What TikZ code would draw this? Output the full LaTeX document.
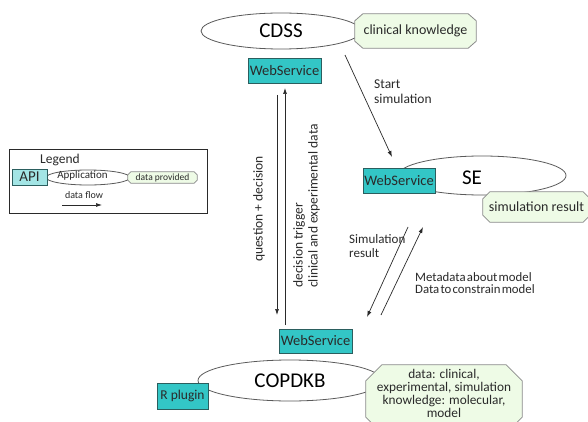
\documentclass[tikz,border=0pt]{standalone}
\usepackage{fontspec}
\setmainfont{Carlito}
\usetikzlibrary{shapes.geometric,arrows.meta}
\definecolor{teal1}{HTML}{33C6C6}
\definecolor{tealb}{HTML}{2B5E5E}
\definecolor{lgreen}{HTML}{EEFBE6}
\definecolor{octb}{HTML}{8A8A8A}
\definecolor{ellb}{HTML}{5A5A5A}
\definecolor{ink}{HTML}{2A2A2A}
\newcommand\tightspaces{\spaceskip=1.2pt\relax}
\tikzset{
  wsbox/.style={draw=tealb, fill=teal1, line width=0.8pt, inner sep=0pt, font=\fontsize{14.5}{16}\selectfont, text=ink},
  appell/.style={draw=ellb, fill=white, ellipse, line width=0.8pt, inner sep=0pt, font=\fontsize{21}{23}\selectfont, text=black},
  octarea/.style={rectangle, inner sep=0pt},
  octline/.style={draw=octb, fill=lgreen, line width=0.8pt},
  octtext/.style={inner sep=0pt, text=ink, font=\fontsize{14}{15}\selectfont},
  lbl/.style={font=\fontsize{13.5}{15}\selectfont, text=ink, inner sep=0pt},
  flow/.style={draw=ink, line width=0.7pt, -{Latex[length=6pt,width=4pt]}},
}
\newcommand\octdraw[3]{%
 \filldraw[octline] ([xshift=#2]#1.north west) -- ([xshift=-#2]#1.north east) -- ([yshift=-#3]#1.north east) -- ([yshift=#3]#1.south east) -- ([xshift=-#2]#1.south east) -- ([xshift=#2]#1.south west) -- ([yshift=#3]#1.south west) -- ([yshift=-#3]#1.north west) -- cycle;}
\begin{document}
\begin{tikzpicture}[x=1pt,y=-1pt]
\useasboundingbox (0,0) rectangle (588,422);
\fill[white] (0,0) rectangle (588,422);

% CDSS
\node[appell, minimum width=160pt, minimum height=36pt] (cdss) at (281,31) {CDSS};
\node[octarea, minimum width=121pt, minimum height=34pt] (ck) at (415.5,31) {};
\octdraw{ck}{8pt}{7pt}
\node[octtext] (ckt) at (ck.center) {clinical knowledge};
\node[wsbox, minimum width=73pt, minimum height=25pt] (wscdss) at (284.5,70.5) {WebService};

% SE
\node[appell, minimum width=168pt, minimum height=39pt] (se) at (482,175.5) {};
\node[font=\fontsize{21}{23}\selectfont, inner sep=0pt] (selbl) at (472,178) {SE};
\node[wsbox, minimum width=72pt, minimum height=25pt] (wsse) at (399,180.5) {WebService};
\node[octarea, minimum width=107pt, minimum height=30pt] (simres) at (536.5,207) {};
\octdraw{simres}{7pt}{7pt}
\node[octtext] (simrest) at (simres.center) {simulation result};

% COPDKB
\node[appell, minimum width=184pt, minimum height=41pt] (kb) at (290,380.5) {COPDKB};
\node[wsbox, minimum width=73pt, minimum height=24pt] (wskb) at (315.5,341) {WebService};
\node[wsbox, minimum width=51pt, minimum height=26pt, font=\fontsize{13.5}{15}\selectfont] (rplug) at (182.5,396) {R plugin};
\node[octarea, minimum width=156pt, minimum height=68pt] (data) at (444,399) {};
\octdraw{data}{16pt}{16pt}
\node[octtext, align=center, font=\fontsize{13.3}{13}\selectfont, anchor=north] (datatxt) at (444,369) {data: clinical,\\experimental, simulation\\knowledge: molecular,\\model};

% Legend
\node[draw=ink, fill=white, line width=0.8pt, minimum width=198pt, minimum height=64pt, inner sep=0pt] (legend) at (108,181) {};
\node[font=\fontsize{13.5}{14}\selectfont, inner sep=0pt, text=ink] (legt) at (60,160) {Legend};
\node[appell, minimum width=84pt, minimum height=15pt] (lapp) at (88,177.5) {};
\node[font=\fontsize{11}{12}\selectfont, inner sep=0pt, text=ink] (lapptxt) at (82.5,175.5) {Application};
\node[draw=tealb, fill=teal1!45, line width=0.7pt, minimum width=35pt, minimum height=16pt, inner sep=0pt, font=\fontsize{15}{16}\selectfont, text=ink] (api) at (29.5,177) {API};
\node[octarea, minimum width=69pt, minimum height=11pt] (ldp) at (162.5,177.5) {};
\octdraw{ldp}{3pt}{3pt}
\node[octtext, font=\fontsize{9.5}{10}\selectfont] (ldpt) at (ldp.center) {data provided};
\node[font=\fontsize{10}{11}\selectfont, inner sep=0pt, text=ink] (ldf) at (84,195) {data flow};
\coordinate (lfa) at (62,205);
\coordinate (lfb) at (102,205);
\draw[flow] (lfa) -- (lfb);

% vertical arrows
\coordinate (qa) at (277,95);
\coordinate (qb) at (277,315);
\coordinate (da) at (285,325);
\coordinate (db) at (285,88);
\draw[flow] (qa) -- (qb);
\draw[flow] (da) -- (db);
\node[lbl, rotate=90] (qd) at (259,209) {question + decision};
\node[lbl, rotate=90, align=left, anchor=south west] (dt) at (320,288) {decision trigger\\clinical and experimental data};

% start simulation
\coordinate (ssa) at (345,55);
\coordinate (ssb) at (392,157);
\draw[flow] (ssa) -- (ssb);
\node[lbl, align=left, anchor=west] (sstxt) at (374,92) {Start\\simulation};

% simulation result arrows
\coordinate (sra) at (408,227);
\coordinate (srb) at (367,317);
\coordinate (mda) at (381,315);
\coordinate (mdb) at (423,227);
\draw[flow] (sra) -- (srb);
\draw[flow] (mda) -- (mdb);
\node[lbl, font=\fontsize{13}{14}\selectfont, align=left, anchor=west] (srtxt) at (349,246) {Simulation\\result};
\node[lbl, font=\fontsize{12.8}{12.5}\selectfont\tightspaces, align=left, anchor=west] (mdtxt) at (415,283) {Metadata about model\\Data to constrain model};
\end{tikzpicture}
\end{document}
